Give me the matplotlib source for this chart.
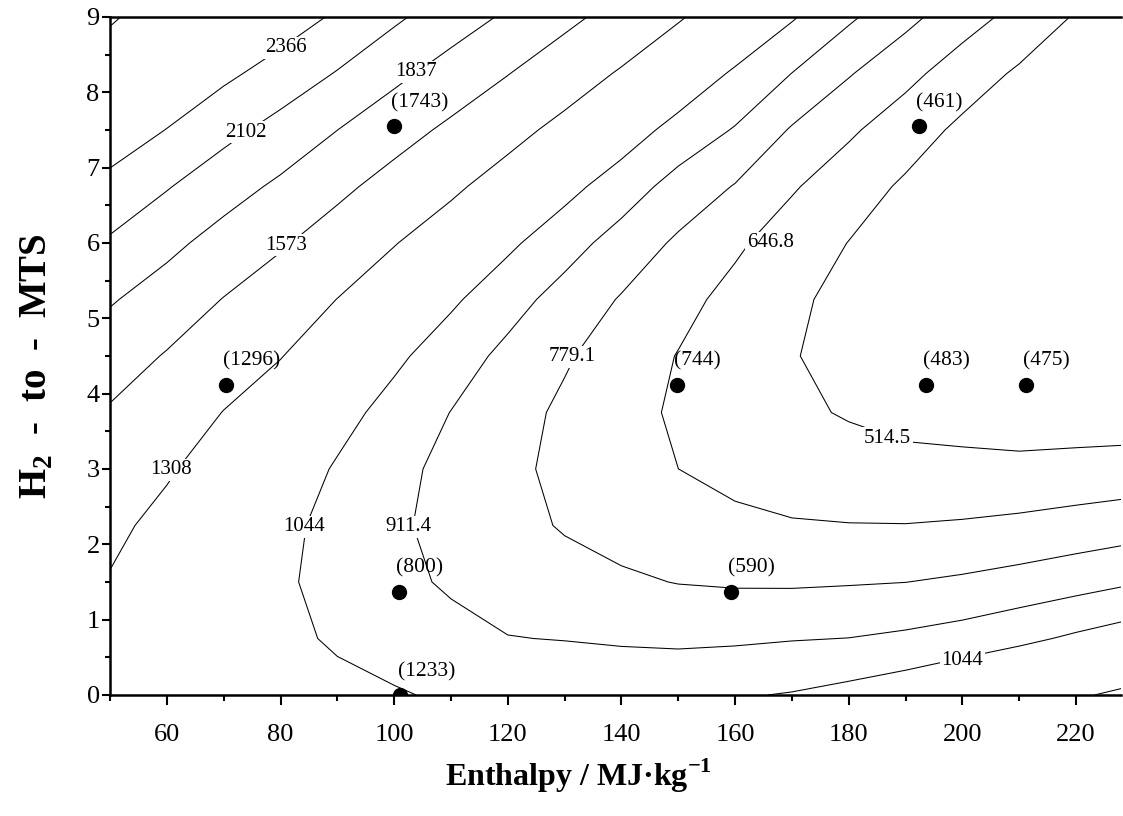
import numpy as np
import matplotlib.pyplot as plt

plt.rcParams['font.family'] = ['Liberation Serif', 'DejaVu Serif']
plt.rcParams['mathtext.fontset'] = 'custom'
plt.rcParams['mathtext.rm'] = 'Liberation Serif'
plt.rcParams['mathtext.bf'] = 'Liberation Serif:bold'

# response surface (one row per H2/MTS value)
enthalpy = [50, 60, 70, 80, 90, 100, 110, 120, 130, 140, 150, 160, 170, 180, 190, 200, 210, 220, 230]
h2_mts = [0, 0.75, 1.5, 2.25, 3.0, 3.75, 4.5, 5.25, 6.0, 6.75, 7.5, 8.25, 9.0]
surface = [
    [1272, 1215, 1158, 1122, 1085, 1056, 1025, 1021, 1014, 1012, 1018, 1033, 1052, 1086, 1129, 1193, 1243, 1290, 1345],
    [1270, 1198, 1129, 1080, 1025, 986, 950, 915, 907, 895, 887, 893, 905, 913, 935, 966, 1013, 1066, 1118],
    [1296, 1211, 1128, 1066, 997, 944, 895, 857, 825, 798, 775, 765, 763, 770, 778, 798, 826, 861, 901],
    [1351, 1253, 1157, 1082, 998, 932, 870, 818, 769, 732, 700, 673, 657, 651, 650, 659, 675, 697, 721],
    [1435, 1330, 1215, 1127, 1030, 949, 875, 810, 747, 695, 647, 612, 581, 563, 549, 547, 546, 557, 569],
    [1549, 1430, 1303, 1201, 1092, 996, 909, 830, 755, 689, 629, 581, 536, 505, 478, 464, 446, 444, 442],
    [1691, 1556, 1419, 1315, 1186, 1072, 972, 880, 794, 714, 642, 580, 521, 477, 437, 410, 385, 385, 385],
    [1860, 1716, 1565, 1437, 1305, 1182, 1066, 960, 864, 769, 686, 608, 537, 479, 426, 386, 385, 385, 385],
    [2062, 1902, 1740, 1600, 1453, 1317, 1193, 1070, 962, 861, 758, 668, 583, 512, 446, 391, 385, 385, 385],
    [2330, 2119, 1945, 1791, 1631, 1480, 1347, 1213, 1088, 976, 864, 772, 660, 574, 496, 425, 385, 385, 385],
    [2440, 2363, 2178, 2011, 1838, 1673, 1525, 1381, 1245, 1117, 996, 902, 767, 667, 575, 488, 410, 385, 385],
    [2560, 2467, 2420, 2261, 2087, 1899, 1731, 1580, 1427, 1285, 1150, 1024, 910, 789, 684, 581, 496, 396, 385],
    [2645, 2570, 2493, 2500, 2330, 2146, 1964, 1800, 1634, 1480, 1327, 1188, 1057, 933, 816, 703, 605, 503, 415],
]
levels = [514.5, 646.8, 779.1, 911.4, 1044, 1308, 1573, 1837, 2102, 2366, 2631]

# experimental points
pt_enthalpy = [100.0, 70.4, 100.8, 101.1, 149.7, 159.2, 192.4, 193.6, 211.2]
pt_h2 = [7.55, 4.12, 1.37, 0.0, 4.12, 1.37, 7.55, 4.12, 4.12]
pt_value = [1743, 1296, 800, 1233, 744, 590, 461, 483, 475]

# where the level labels sit on the lines
label_spots = [(80.9, 8.59, 2366), (73.9, 7.47, 2102), (103.8, 8.27, 1837),
               (80.9, 5.97, 1573), (60.7, 2.99, 1308), (84.1, 2.23, 1044),
               (102.6, 2.23, 911.4), (131.4, 4.49, 779.1), (166.2, 6.0, 646.8),
               (186.8, 3.41, 514.5), (200.0, 0.46, 1044)]

fig = plt.figure(figsize=(11.23, 8.16), dpi=100)
ax = fig.add_axes([0.098, 0.1483, 0.9006, 0.8309])

X, Y = np.meshgrid(enthalpy, h2_mts)
ax.contour(X, Y, np.array(surface), levels=levels, colors='black', linewidths=0.75)

for x, y, lev in label_spots:
    ax.text(x, y, f'{lev:g}', fontsize=15, ha='center', va='center', zorder=3,
            bbox=dict(boxstyle='square,pad=0.08', fc='white', ec='none'))

ax.plot(pt_enthalpy, pt_h2, 'o', color='black', ms=10, zorder=4)
for x, y, v in zip(pt_enthalpy, pt_h2, pt_value):
    ax.annotate(f'({v})', (x, y), xytext=(-2, 17), textcoords='offset points',
                ha='left', va='center', fontsize=15.5, zorder=5)

ax.set_xlim(50, 228)
ax.set_ylim(0, 9)
ax.set_xticks(range(60, 221, 20))
ax.set_xticks(range(50, 221, 20), minor=True)
ax.set_yticks(range(0, 10))
ax.set_yticks(np.arange(0.5, 9, 1), minor=True)
ax.tick_params(which='both', direction='out', width=1.5, labelsize=19)
ax.tick_params(axis='x', which='major', length=7, pad=14)
ax.tick_params(axis='x', which='minor', length=4)
ax.tick_params(axis='y', which='major', length=6, pad=1.5)
ax.tick_params(axis='y', which='minor', length=3.5)
for side in ['left', 'bottom', 'top']:
    ax.spines[side].set_linewidth(1.8)
ax.spines['right'].set_visible(False)

ax.set_xlabel(r'Enthalpy / MJ·kg$^{\mathbf{-1}}$', fontsize=23, fontweight='bold')
ax.set_ylabel(r'H$_{\mathbf{2}}$  -  to  -  MTS', fontsize=28, fontweight='bold')
ax.xaxis.label.set_va('center')
ax.yaxis.label.set_va('center')
ax.xaxis.set_label_coords(0.463, -0.12)
ax.yaxis.set_label_coords(-0.072, 0.485)

fig.savefig('out.png', dpi=100)
